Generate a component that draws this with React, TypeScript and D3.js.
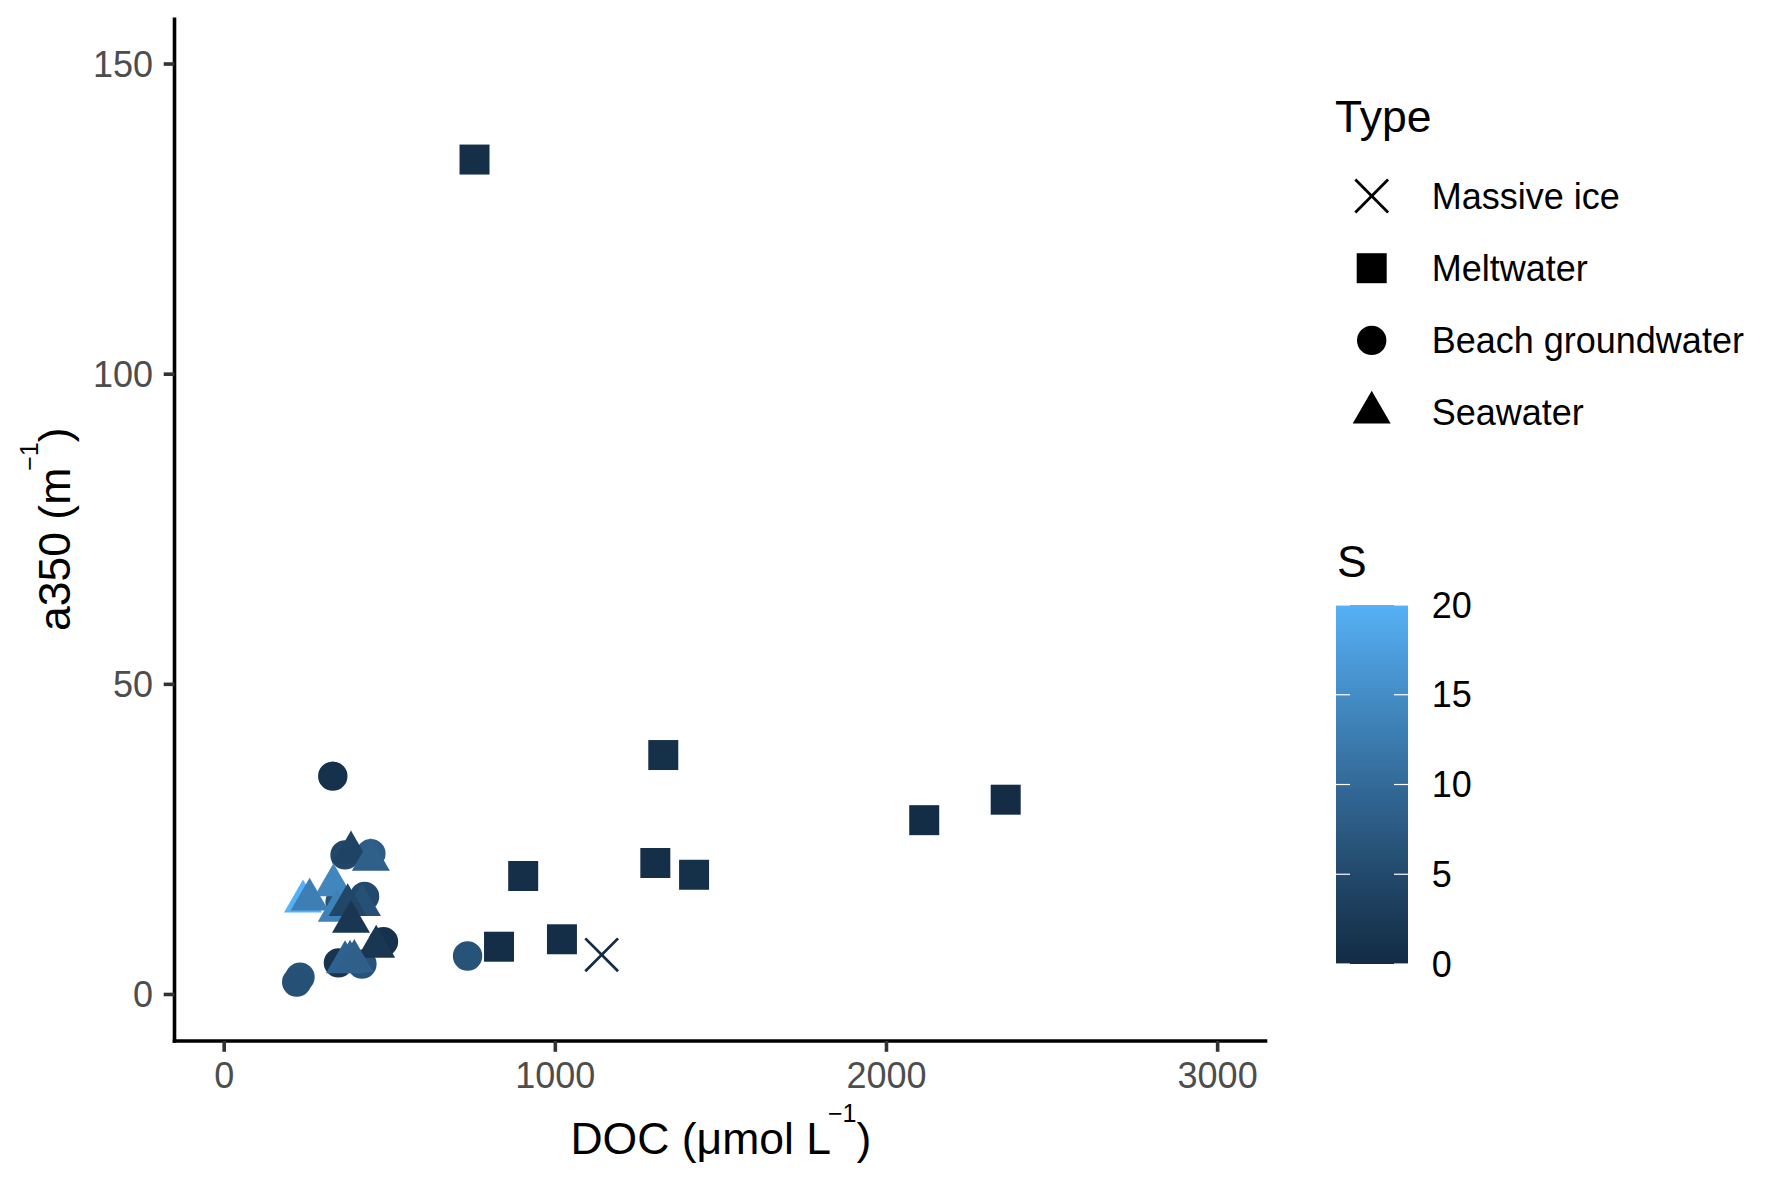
import * as d3 from "d3";

// a350 vs DOC, points coloured by salinity S
const meltwaterDOC = [756, 1326, 2114, 2360, 903, 1302, 1419, 830, 1020];
const meltwaterA350 = [134.6, 38.6, 28.1, 31.4, 19.1, 21.2, 19.3, 7.7, 8.9];
const meltwaterS = [0.6, 0.8, 0.4, 0.3, 0.7, 0.6, 0.8, 0.5, 0.5];

const iceDOC = [1140];
const iceA350 = [6.4];
const iceS = [0];

const groundDOC = [328, 735, 365, 443, 350, 424, 481, 345, 416, 229, 219];
const groundA350 = [35.2, 6.2, 22.5, 22.7, 14.9, 15.8, 8.5, 5.1, 4.9, 2.8, 2.0];
const groundS = [1, 6.5, 4.5, 8, 6.5, 5, 1, 1.5, 6.5, 6.5, 6];

const seaDOC = [383, 443, 330, 238, 258, 340, 416, 373, 383, 459, 365, 380, 393];
const seaA350 = [22.9, 21.7, 17.6, 15.0, 15.3, 13.5, 14.4, 14.4, 11.7, 7.7, 5.2, 5.3, 5.4];
const seaS = [4, 8.5, 14, 20, 13, 13.5, 6, 4.5, 2, 2, 9, 9, 8.5];

const xTicks = [0, 1000, 2000, 3000];
const yTicks = [0, 50, 100, 150];
const sTicks = [0, 5, 10, 15, 20];
const typeLabels = ["Massive ice", "Meltwater", "Beach groundwater", "Seawater"];

const W = 1765;
const H = 1179;
const panel = { left: 174.5, right: 1267.3, top: 17.5, bottom: 1041 };
const font = "'Liberation Sans', Arial, Helvetica, sans-serif";
const tickFont = 36;
const titleFont = 44.5;

const x = d3.scaleLinear().domain([-150, 3150]).range([panel.left, panel.right]);
const y = d3.scaleLinear().domain([-7.5, 157.5]).range([panel.bottom, panel.top]);
const color = d3
  .scaleLinear<string>()
  .domain([0, 20])
  .range(["#132B43", "#56B1F7"])
  .interpolate(d3.interpolateLab);

const squarePath = d3.symbol(d3.symbolSquare, 900)()!;
const circlePath = d3.symbol(d3.symbolCircle, 679)()!;
const trianglePath = d3.symbol(d3.symbolTriangle, 625)()!;

const Cross = ({ cx, cy, stroke }: { cx: number; cy: number; stroke: string }) => {
  const h = 16.4;
  return (
    <g stroke={stroke} strokeWidth={2.8}>
      <line x1={cx - h} y1={cy - h} x2={cx + h} y2={cy + h} />
      <line x1={cx - h} y1={cy + h} x2={cx + h} y2={cy - h} />
    </g>
  );
};

// colour bar geometry
const bar = { x: 1336, w: 72, top: 605, bottom: 964 };
const sScale = d3.scaleLinear().domain([0, 20]).range([bar.bottom, bar.top]);

export default function App() {
  const legendY = (i: number) => 196 + i * 72.2;
  const gradStops = d3.range(0, 21, 1);

  return (
    <svg
      width={W}
      height={H}
      style={{ position: "absolute", left: 0, top: 0, background: "#fff" }}
      fontFamily={font}
    >
      <defs>
        <linearGradient id="sgrad" x1="0" y1="1" x2="0" y2="0">
          {gradStops.map((s) => (
            <stop key={s} offset={s / 20} stopColor={color(s)} />
          ))}
        </linearGradient>
      </defs>

      {/* points */}
      {meltwaterDOC.map((d, i) => (
        <path
          key={"m" + i}
          d={squarePath}
          transform={`translate(${x(d)},${y(meltwaterA350[i])})`}
          fill={color(meltwaterS[i])}
        />
      ))}
      {iceDOC.map((d, i) => (
        <Cross key={"i" + i} cx={x(d)} cy={y(iceA350[i])} stroke={color(iceS[i])} />
      ))}
      {groundDOC.map((d, i) => (
        <path
          key={"g" + i}
          d={circlePath}
          transform={`translate(${x(d)},${y(groundA350[i])})`}
          fill={color(groundS[i])}
        />
      ))}
      {seaDOC.map((d, i) => (
        <path
          key={"s" + i}
          d={trianglePath}
          transform={`translate(${x(d)},${y(seaA350[i])})`}
          fill={color(seaS[i])}
        />
      ))}

      {/* axes */}
      <line x1={panel.left} y1={panel.top} x2={panel.left} y2={panel.bottom + 1.8} stroke="#000" strokeWidth={3.6} />
      <line x1={panel.left - 1.8} y1={panel.bottom} x2={panel.right} y2={panel.bottom} stroke="#000" strokeWidth={3.6} />
      {yTicks.map((t) => (
        <g key={"yt" + t}>
          <line x1={panel.left - 10.8} x2={panel.left} y1={y(t)} y2={y(t)} stroke="#333333" strokeWidth={3.6} />
          <text x={153} y={y(t) + 12.6} textAnchor="end" fontSize={tickFont} fill="#4D4D4D">
            {t}
          </text>
        </g>
      ))}
      {xTicks.map((t) => (
        <g key={"xt" + t}>
          <line x1={x(t)} x2={x(t)} y1={panel.bottom} y2={panel.bottom + 10.8} stroke="#333333" strokeWidth={3.6} />
          <text x={x(t)} y={1087.5} textAnchor="middle" fontSize={tickFont} fill="#4D4D4D">
            {t}
          </text>
        </g>
      ))}

      {/* axis titles */}
      <text x={(panel.left + panel.right) / 2} y={1154} textAnchor="middle" fontSize={titleFont} fill="#000">
        DOC (μmol L
        <tspan fontSize={25} dx={-3} dy={-32}>−1</tspan>
        <tspan dy={32}>)</tspan>
      </text>
      <text
        transform={`translate(70,${(panel.top + panel.bottom) / 2}) rotate(-90)`}
        textAnchor="middle"
        fontSize={titleFont}
        fill="#000"
      >
        a350 (m
        <tspan fontSize={25} dx={-3} dy={-32}>−1</tspan>
        <tspan dy={32}>)</tspan>
      </text>

      {/* shape legend */}
      <text x={1335} y={131.7} fontSize={titleFont} fill="#000">
        Type
      </text>
      {typeLabels.map((lab, i) => {
        const cy = legendY(i);
        const cx = 1371.7;
        let mark;
        if (i === 0) mark = <Cross cx={cx} cy={cy} stroke="#000" />;
        else {
          const p = i === 1 ? squarePath : i === 2 ? circlePath : trianglePath;
          mark = <path d={p} transform={`translate(${cx},${cy})`} fill="#000" />;
        }
        return (
          <g key={lab}>
            {mark}
            <text x={1431.7} y={cy + 12.6} fontSize={tickFont} fill="#000">
              {lab}
            </text>
          </g>
        );
      })}

      {/* colour bar legend */}
      <text x={1337} y={576.7} fontSize={titleFont} fill="#000">
        S
      </text>
      <rect x={bar.x} y={bar.top} width={bar.w} height={bar.bottom - bar.top} fill="url(#sgrad)" />
      {sTicks.map((t) => (
        <g key={"st" + t}>
          <line x1={bar.x} x2={bar.x + 14} y1={sScale(t)} y2={sScale(t)} stroke="#fff" strokeWidth={1.2} />
          <line x1={bar.x + bar.w - 14} x2={bar.x + bar.w} y1={sScale(t)} y2={sScale(t)} stroke="#fff" strokeWidth={1.2} />
          <text x={1431.7} y={sScale(t) + 12.6} fontSize={tickFont} fill="#000">
            {t}
          </text>
        </g>
      ))}
    </svg>
  );
}
